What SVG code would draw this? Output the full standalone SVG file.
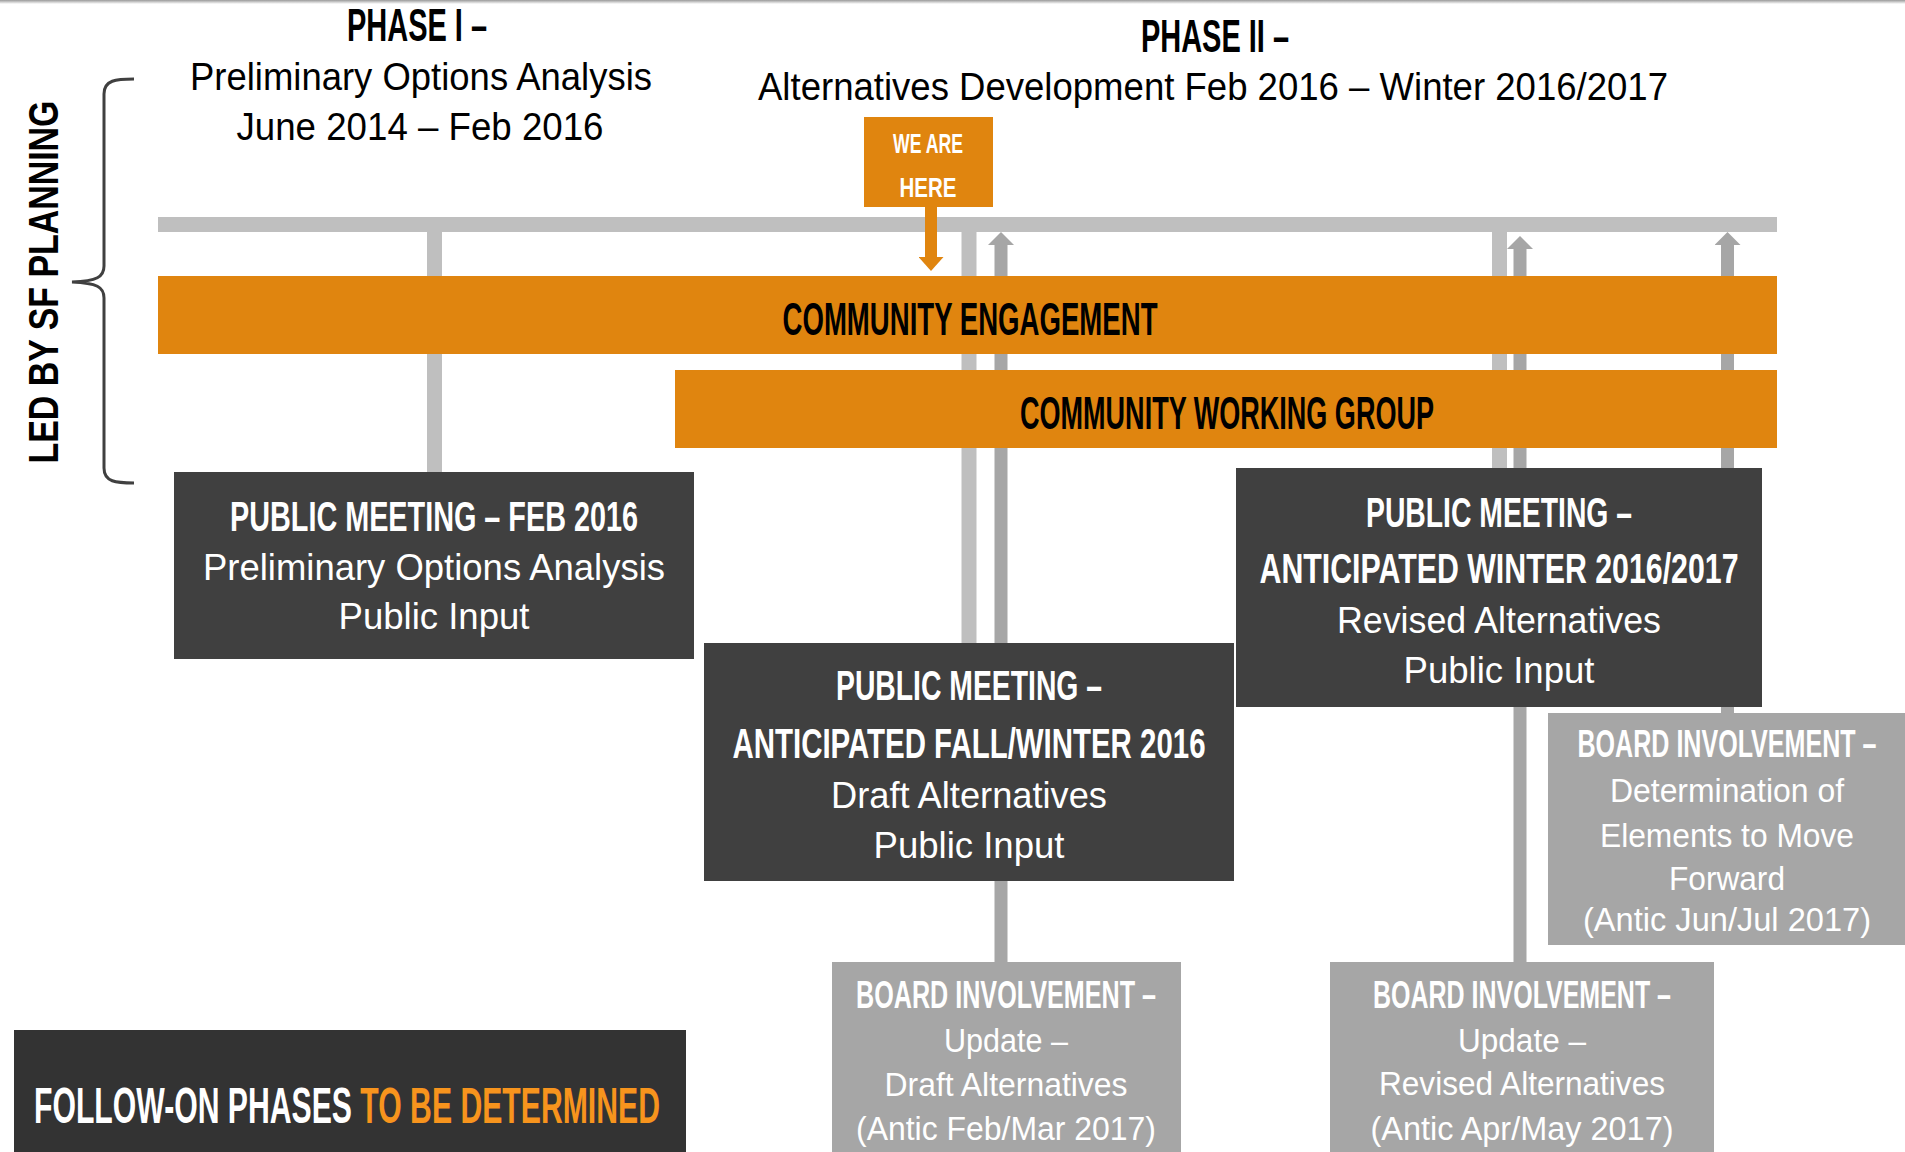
<svg xmlns="http://www.w3.org/2000/svg" width="1905" height="1152" viewBox="0 0 1905 1152">
<defs>
<style>
.b{font-family:"Liberation Sans",Arial,sans-serif;font-weight:bold}
.r{font-family:"Liberation Sans",Arial,sans-serif;font-weight:normal}
.c{text-anchor:middle}
.k{fill:#000}
.w{fill:#fff}
.dark{fill:#404040}
.board{fill:#a6a6a6}
.orange{fill:#e0850f}
.lg{stroke:#bfbfbf;stroke-width:15;fill:none}
.dg{stroke:#a6a6a6;stroke-width:13;fill:none;marker-end:url(#ahGray)}
</style>
<linearGradient id="topShade" x1="0" y1="0" x2="0" y2="1">
<stop offset="0" stop-color="#9a9a9a"/>
<stop offset="1" stop-color="#ffffff"/>
</linearGradient>
<marker id="ahGray" viewBox="0 0 13 26" refX="0" refY="13" markerWidth="13" markerHeight="26" markerUnits="userSpaceOnUse" orient="auto">
<path d="M0,0 L13,13 L0,26 z" fill="#a6a6a6"/>
</marker>
<marker id="ahOrange" viewBox="0 0 14 25" refX="0" refY="12.5" markerWidth="14" markerHeight="25" markerUnits="userSpaceOnUse" orient="auto">
<path d="M0,0 L14,12.5 L0,25 z" fill="#e0850f"/>
</marker>
</defs>
<rect width="1905" height="1152" fill="#fff"/>
<rect x="0" y="0" width="1905" height="4" fill="url(#topShade)"/>

<g id="led-by-sf-planning">
<path d="M134,79 C116,79 104,80 104,94 L104,266 C104,277 97,281 72,282 C97,283 104,287 104,298 L104,468 C104,482 116,483 134,483" fill="none" stroke="#404040" stroke-width="3"/>
<text class="b k c" transform="translate(58,282) rotate(-90)" font-size="43" textLength="363" lengthAdjust="spacingAndGlyphs">LED BY SF PLANNING</text>
</g>

<g id="phase-1-header">
<text class="b k c" x="417" y="41" font-size="47" textLength="140" lengthAdjust="spacingAndGlyphs">PHASE I –</text>
<text class="r k c" x="421" y="90" font-size="38" textLength="462" lengthAdjust="spacingAndGlyphs">Preliminary Options Analysis</text>
<text class="r k c" x="420" y="140" font-size="38" textLength="367" lengthAdjust="spacingAndGlyphs">June 2014 – Feb 2016</text>
</g>

<g id="phase-2-header">
<text class="b k c" x="1215" y="52" font-size="47" textLength="148" lengthAdjust="spacingAndGlyphs">PHASE II –</text>
<text class="r k c" x="1213" y="100" font-size="38" textLength="910" lengthAdjust="spacingAndGlyphs">Alternatives Development Feb 2016 – Winter 2016/2017</text>
</g>

<g id="connectors">
<line x1="158" y1="224.5" x2="1777" y2="224.5" class="lg"/>
<line x1="434.5" y1="231" x2="434.5" y2="472" class="lg"/>
<line x1="969" y1="231" x2="969" y2="643" class="lg" stroke-width="16"/>
<line x1="1499.5" y1="231" x2="1499.5" y2="468" class="lg"/>
<line x1="1001" y1="962" x2="1001" y2="245" class="dg"/>
<line x1="1520" y1="962" x2="1520" y2="249" class="dg"/>
<line x1="1727.5" y1="713" x2="1727.5" y2="245" class="dg"/>
</g>

<g id="we-are-here">
<line x1="931" y1="205" x2="931" y2="257" stroke="#e0850f" stroke-width="12" marker-end="url(#ahOrange)"/>
<rect x="864" y="117" width="129" height="90" class="orange"/>
<text class="b w c" x="928" y="153" font-size="28" textLength="70" lengthAdjust="spacingAndGlyphs">WE ARE</text>
<text class="b w c" x="928" y="197" font-size="28" textLength="57" lengthAdjust="spacingAndGlyphs">HERE</text>
</g>

<g id="community-engagement">
<rect x="158" y="276" width="1619" height="78" class="orange"/>
<text class="b k c" x="970" y="335" font-size="46" textLength="375" lengthAdjust="spacingAndGlyphs">COMMUNITY ENGAGEMENT</text>
</g>

<g id="community-working-group">
<rect x="675" y="370" width="1102" height="78" class="orange"/>
<text class="b k c" x="1227" y="429" font-size="46" textLength="414" lengthAdjust="spacingAndGlyphs">COMMUNITY WORKING GROUP</text>
</g>

<g id="public-meeting-feb-2016">
<rect x="174" y="472" width="520" height="187" class="dark"/>
<text class="b w c" x="434" y="531" font-size="43" textLength="408" lengthAdjust="spacingAndGlyphs">PUBLIC MEETING – FEB 2016</text>
<text class="r w c" x="434" y="580" font-size="37" textLength="462" lengthAdjust="spacingAndGlyphs">Preliminary Options Analysis</text>
<text class="r w c" x="434" y="629" font-size="37" textLength="191" lengthAdjust="spacingAndGlyphs">Public Input</text>
</g>

<g id="public-meeting-fall-winter-2016">
<rect x="704" y="643" width="530" height="238" class="dark"/>
<text class="b w c" x="969" y="700" font-size="43" textLength="266" lengthAdjust="spacingAndGlyphs">PUBLIC MEETING –</text>
<text class="b w c" x="969" y="758" font-size="43" textLength="473" lengthAdjust="spacingAndGlyphs">ANTICIPATED FALL/WINTER 2016</text>
<text class="r w c" x="969" y="808" font-size="37" textLength="276" lengthAdjust="spacingAndGlyphs">Draft Alternatives</text>
<text class="r w c" x="969" y="858" font-size="37" textLength="191" lengthAdjust="spacingAndGlyphs">Public Input</text>
</g>

<g id="public-meeting-winter-2016-2017">
<rect x="1236" y="468" width="526" height="239" class="dark"/>
<text class="b w c" x="1499" y="527" font-size="43" textLength="266" lengthAdjust="spacingAndGlyphs">PUBLIC MEETING –</text>
<text class="b w c" x="1499" y="583" font-size="43" textLength="479" lengthAdjust="spacingAndGlyphs">ANTICIPATED WINTER 2016/2017</text>
<text class="r w c" x="1499" y="633" font-size="37" textLength="324" lengthAdjust="spacingAndGlyphs">Revised Alternatives</text>
<text class="r w c" x="1499" y="683" font-size="37" textLength="191" lengthAdjust="spacingAndGlyphs">Public Input</text>
</g>

<g id="board-update-draft">
<rect x="832" y="962" width="349" height="195" class="board"/>
<text class="b w c" x="1006" y="1008" font-size="39" textLength="300" lengthAdjust="spacingAndGlyphs">BOARD INVOLVEMENT –</text>
<text class="r w c" x="1006" y="1052" font-size="34" textLength="124" lengthAdjust="spacingAndGlyphs">Update –</text>
<text class="r w c" x="1006" y="1096" font-size="34" textLength="243" lengthAdjust="spacingAndGlyphs">Draft Alternatives</text>
<text class="r w c" x="1006" y="1140" font-size="34" textLength="300" lengthAdjust="spacingAndGlyphs">(Antic Feb/Mar 2017)</text>
</g>

<g id="board-update-revised">
<rect x="1330" y="962" width="384" height="195" class="board"/>
<text class="b w c" x="1522" y="1008" font-size="39" textLength="298" lengthAdjust="spacingAndGlyphs">BOARD INVOLVEMENT –</text>
<text class="r w c" x="1522" y="1052" font-size="34" textLength="128" lengthAdjust="spacingAndGlyphs">Update –</text>
<text class="r w c" x="1522" y="1095" font-size="34" textLength="286" lengthAdjust="spacingAndGlyphs">Revised Alternatives</text>
<text class="r w c" x="1522" y="1140" font-size="34" textLength="303" lengthAdjust="spacingAndGlyphs">(Antic Apr/May 2017)</text>
</g>

<g id="board-determination">
<rect x="1548" y="713" width="360" height="232" class="board"/>
<text class="b w c" x="1727" y="757" font-size="39" textLength="299" lengthAdjust="spacingAndGlyphs">BOARD INVOLVEMENT –</text>
<text class="r w c" x="1727" y="802" font-size="34" textLength="234" lengthAdjust="spacingAndGlyphs">Determination of</text>
<text class="r w c" x="1727" y="847" font-size="34" textLength="254" lengthAdjust="spacingAndGlyphs">Elements to Move</text>
<text class="r w c" x="1727" y="890" font-size="34" textLength="116" lengthAdjust="spacingAndGlyphs">Forward</text>
<text class="r w c" x="1727" y="931" font-size="34" textLength="288" lengthAdjust="spacingAndGlyphs">(Antic Jun/Jul 2017)</text>
</g>

<g id="follow-on-phases">
<rect x="14" y="1030" width="672" height="125" fill="#333333"/>
<text class="b w" x="34" y="1123" font-size="50" textLength="626" lengthAdjust="spacingAndGlyphs">FOLLOW-ON PHASES <tspan fill="#f7941d">TO BE DETERMINED</tspan></text>
</g>
</svg>
